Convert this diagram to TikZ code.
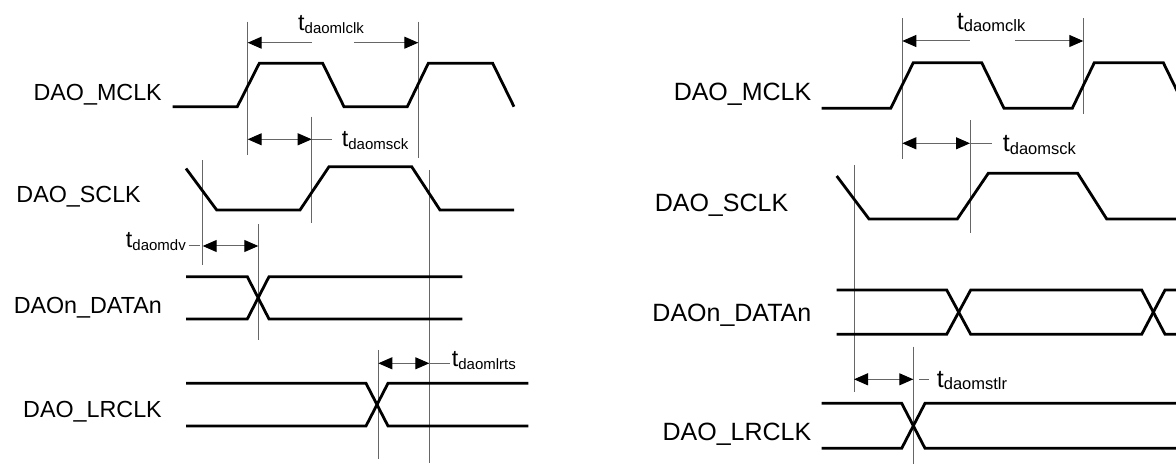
\documentclass[tikz,border=0pt]{standalone}
\usepackage{fontspec}
\setmainfont{Liberation Sans}
\usetikzlibrary{arrows.meta}
\newcommand\tlab[3]{{\fontsize{#1bp}{#1bp}\selectfont t}\raisebox{-2.5bp}{\fontsize{#2bp}{#2bp}\selectfont #3}}
\tikzset{
  wave/.style={line width=2.8bp, line join=miter, line cap=butt},
  guide/.style={line width=1bp, draw=black!60},
  dim/.style={line width=1bp, draw=black!60},
  tip/.tip={Triangle[length=14bp,width=12bp,color=black]},
  sigL/.style={anchor=base east, inner sep=0pt, font=\fontsize{23.3bp}{28bp}\selectfont},
  sigR/.style={anchor=base east, inner sep=0pt, font=\fontsize{25bp}{30bp}\selectfont},
  tl/.style={inner sep=0pt}
}
\begin{document}
\begin{tikzpicture}[x=1bp,y=-1bp]
\useasboundingbox (0,0) rectangle (1176,465);
\clip (0,0) rectangle (1176,465);
% ================= LEFT DIAGRAM =================
% signal labels
\node[sigL] (lmclk) at (162,100.4) {DAO\_MCLK};
\node[sigL] (lsclk) at (141,203) {DAO\_SCLK};
\node[sigL] (ldata) at (162,313.5) {DAOn\_DATAn};
\node[sigL] (llr) at (162,418) {DAO\_LRCLK};
% guides
\draw[guide] (247.7,21.7) -- (247.7,155);
\draw[guide] (418.3,21.7) -- (418.3,158);
\draw[guide] (311.7,116.7) -- (311.7,223.3);
\draw[guide] (202.7,160) -- (202.7,265);
\draw[guide] (429.3,170) -- (429.3,463);
\draw[guide] (258.3,224) -- (258.3,340);
\draw[guide] (378.3,350) -- (378.3,459.3);
% waves
\draw[wave] (172.7,106.7) -- (237.3,106.7) -- (259.3,63.3) -- (322.7,63.3) -- (344,106.7) -- (407.3,106.7) -- (428.3,63.3) -- (492.7,63.3) -- (514,106.7);
\draw[wave] (186,168.5) -- (216.7,210) -- (300,210) -- (329,166.7) -- (411.7,166.7) -- (440,210) -- (514,210);
\draw[wave] (186,276.7) -- (247.3,276.7) -- (269,319) -- (462.3,319);
\draw[wave] (186,319) -- (247.3,319) -- (269,276.7) -- (462.3,276.7);
\draw[wave] (186,383.3) -- (366,383.3) -- (388,426) -- (528.3,426);
\draw[wave] (186,426) -- (366,426) -- (388,383.3) -- (528.3,383.3);
% dimensions
\draw[dim,tip-] (247.7,42.7) -- (311.7,42.7);
\draw[dim,-tip] (354,42.7) -- (418.3,42.7);
\node[tl,anchor=base west] (llclk) at (298,30.7) {\tlab{23.3}{15}{daomlclk}};
\draw[dim,tip-tip] (247.7,139.3) -- (311.7,139.3);
\draw[dim] (311.7,139.3) -- (331.7,139.3);
\node[tl,anchor=base west] (lmsck) at (341.7,146.7) {\tlab{23.3}{15}{daomsck}};
\draw[dim,tip-tip] (202.7,246) -- (258.3,246);
\draw[dim] (188.5,246) -- (199.5,246);
\node[tl,anchor=base east] (lmdv) at (186,248) {\tlab{23.3}{15}{daomdv}};
\draw[dim,tip-tip] (378.3,363.3) -- (429.3,363.3);
\draw[dim] (429.3,363.3) -- (450,363.3);
\node[tl,anchor=base west] (llrts) at (451.7,366.7) {\tlab{23.3}{15}{daomlrts}};
% ================= RIGHT DIAGRAM =================
\node[sigR] (rmclk) at (811.5,101) {DAO\_MCLK};
\node[sigR] (rsclk) at (788.4,212) {DAO\_SCLK};
\node[sigR] (rdata) at (811.5,322) {DAOn\_DATAn};
\node[sigR] (rlr) at (811.5,441) {DAO\_LRCLK};
% guides
\draw[guide] (902.3,18.3) -- (902.3,159.3);
\draw[guide] (1083.3,18.3) -- (1083.3,114);
\draw[guide] (970,120) -- (970,233.3);
\draw[guide] (854,165) -- (854,391.7);
\draw[guide] (913.3,346.7) -- (913.3,464);
% waves
\draw[wave] (821.7,108.3) -- (890.7,108.3) -- (913.3,62.7) -- (981.7,62.7) -- (1004,108.3) -- (1072.3,108.3) -- (1094.3,62.7) -- (1163.3,62.7) -- (1185.6,108.3);
\draw[wave] (836.7,176) -- (869,219) -- (957.3,219) -- (988.3,173.3) -- (1077.7,173.3) -- (1106.7,219) -- (1182,219);
\draw[wave] (836.7,290) -- (946.7,290) -- (970.7,334.3) -- (1141.7,334.3) -- (1165,290) -- (1182,290);
\draw[wave] (836.7,334.3) -- (946.7,334.3) -- (970.7,290) -- (1141.7,290) -- (1165,334.3) -- (1182,334.3);
\draw[wave] (821.7,403.3) -- (901.7,403.3) -- (925,448.3) -- (1182,448.3);
\draw[wave] (821.7,448.3) -- (901.7,448.3) -- (925,403.3) -- (1182,403.3);
% dimensions
\draw[dim,tip-] (902.3,41) -- (970,41);
\draw[dim,-tip] (1015,41) -- (1083.3,41);
\node[tl,anchor=base west] (rmclkt) at (956.7,29.3) {\tlab{25}{16.5}{daomclk}};
\draw[dim,tip-tip] (902.3,143.3) -- (970,143.3);
\draw[dim] (970,143.3) -- (991.7,143.3);
\node[tl,anchor=base west] (rmsck) at (1002.7,151.7) {\tlab{25}{16.5}{daomsck}};
\draw[dim,tip-tip] (854,379.3) -- (913.3,379.3);
\draw[dim] (919.3,379.3) -- (929,379.3);
\node[tl,anchor=base west] (rstlr) at (936.7,387.3) {\tlab{25}{16.5}{daomstlr}};
\end{tikzpicture}
\end{document}
